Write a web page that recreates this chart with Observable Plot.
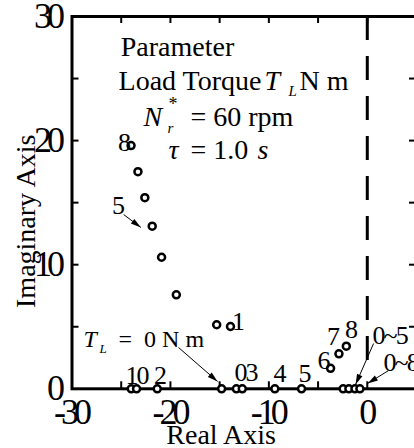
<!DOCTYPE html>
<html><head><meta charset="utf-8">
<script src="https://cdn.jsdelivr.net/npm/d3@7"></script>
<script src="https://cdn.jsdelivr.net/npm/@observablehq/plot@0.6"></script>
<style>
body{margin:0;background:#fff}
svg text{font-family:"Liberation Serif","Times New Roman",serif}
g[aria-description="tick-labels"] text{letter-spacing:-5px}
g[aria-description="pole-labels"] text{letter-spacing:-2px}
</style></head><body><div id="chart"></div>
<script>
// Pole locations (real, imaginary)
const poleRe = [-13.9, -15.3, -19.4, -20.9, -21.85, -22.6, -23.3, -24.0,
                -3.73, -2.88, -2.13,
                -23.98, -23.44, -21.34, -14.8, -13.3, -12.7, -9.39, -6.68, -2.45, -1.87, -1.25, -0.75];
const poleIm = [5.02, 5.16, 7.57, 10.6, 13.1, 15.4, 17.5, 19.6,
                1.65, 2.82, 3.43,
                0, 0, 0, 0, 0, 0, 0, 0, 0, 0, 0, 0];
// Tick labels
const xTickLabels = [-30, -20, -10, 0];
const yTickLabels = [0, 10, 20, 30];
const xTickMarks = [-25, -20, -15, -10, -5, 0];
const yTickMarks = [5, 10, 15, 20, 25];
// Axis titles
const xTitle = "Real Axis";
const yTitle = "Imaginary Axis";
// Pole labels (load torque values)
const labelText = ["8", "5", "1", "10", "2", "03", "4", "5", "6", "7", "8"];
const labelRe = [-24.77, -25.37, -13.18, -23.45, -21.11, -12.37, -8.96, -6.42, -4.49, -3.53, -1.70];
const labelIm = [19.86, 14.77, 5.42, 1.07, 1.07, 1.31, 1.19, 1.19, 2.28, 4.21, 4.74];
const rangeText = ["0~5", "0~8"];
const rangeRe = [0.54, 1.66];
const rangeIm = [4.30, 2.12];
// Annotation pieces
const annText  = ["Parameter", "Load Torque", "T", "L", "N m", "N", "r", "*", "= 60 rpm", "τ", "= 1.0", "s", "T", "L", "=  0 N m"];
const annRe    = [-25.05, -25.27, -10.44, -8.0, -6.88, -22.74, -20.30, -20.19, -17.96, -20.19, -17.96, -11.15, -28.83, -27.2, -25.27];
const annIm    = [26.78, 24.04, 24.04, 23.6, 24.04, 21.21, 20.65, 22.43, 21.21, 18.50, 18.50, 18.50, 3.33, 2.92, 3.33];
const annSize  = [28, 28, 28, 15, 28, 28, 15, 18, 28, 28, 28, 28, 24, 13, 24];
const annItal  = [false, false, true, true, false, true, true, false, false, true, false, true, true, true, false];
// Arrows
const arrowRe1 = [-24.75, -19.18, 0.64, 2.16];
const arrowIm1 = [14.04, 3.33, 3.65, 1.47];
const arrowRe2 = [-23.0, -15.21, -1.19, 0.03];
const arrowIm2 = [13.0, 0.59, 0.35, 0.43];

const FONT = "Liberation Serif, Times New Roman, serif";
const W = 414, H = 448;
const mL = 71.5, mR = -2, mT = 16, mB = 59.7;
const innerW = W - mL - mR, innerH = H - mT - mB;
const xs = d3.scaleLinear([-30, 5], [mL, W - mR]);
const ys = d3.scaleLinear([0, 30], [H - mB, mT]);

const poles = poleRe.map((re, i) => ({re, im: poleIm[i]}));
const labels = labelText.map((t, i) => ({t, re: labelRe[i], im: labelIm[i]}));
const ranges = rangeText.map((t, i) => ({t, re: rangeRe[i], im: rangeIm[i]}));
const ann = annText.map((t, i) => ({t, re: annRe[i], im: annIm[i], size: annSize[i], ital: annItal[i]}));
const arrows = arrowRe1.map((_, i) => {
  const a = Math.atan2(ys(arrowIm2[i]) - ys(arrowIm1[i]), xs(arrowRe2[i]) - xs(arrowRe1[i])) * 180 / Math.PI;
  return {x1: arrowRe1[i], y1: arrowIm1[i], x2: arrowRe2[i], y2: arrowIm2[i], rot: a + 90};
});
const arrowHead = {
  draw(context, size) {
    const s = Math.sqrt(size / Math.PI);
    context.moveTo(0, 0);
    context.lineTo(-s * 0.65, s * 2.3);
    context.lineTo(s * 0.65, s * 2.3);
    context.closePath();
  }
};

const textMarks = ann.map(a => Plot.text([a], {
  x: "re", y: "im", text: "t", textAnchor: "start", lineAnchor: "bottom", fontFamily: FONT,
  fontSize: a.size, fontStyle: a.ital ? "italic" : "normal", fill: "black", ariaDescription: "annotation"
}));

const plot = Plot.plot({
  width: W, height: H,
  marginLeft: mL, marginRight: mR, marginTop: mT, marginBottom: mB,
  x: {domain: [-30, 5], axis: null},
  y: {domain: [0, 30], axis: null},
  marks: [
    Plot.ruleX([0], {x: d => d, y1: 30, y2: 2.0, stroke: "black", strokeWidth: 3, strokeDasharray: "24,16"}),
    Plot.ruleX(xTickMarks, {x: d => d, insetTop: innerH - 7, stroke: "black", strokeWidth: 2}),
    Plot.ruleX(xTickMarks, {x: d => d, insetBottom: innerH - 7, stroke: "black", strokeWidth: 2}),
    Plot.ruleY(yTickMarks, {y: d => d, insetRight: innerW - 7, stroke: "black", strokeWidth: 2}),
    Plot.ruleY(yTickMarks, {y: d => d, insetLeft: innerW - 7, stroke: "black", strokeWidth: 2}),
    Plot.frame({stroke: "black", strokeWidth: 3}),
    Plot.text(yTickLabels, {x: -30, y: d => d, text: d => String(d), textAnchor: "end", dx: -12, fontSize: 36, fontFamily: FONT, fill: "black", ariaDescription: "tick-labels"}),
    Plot.text(xTickLabels, {x: d => d, y: 0, text: d => String(d), textAnchor: "middle", lineAnchor: "bottom", dy: 34.7, dx: -1.5, fontSize: 36, fontFamily: FONT, fill: "black", ariaDescription: "tick-labels"}),
    Plot.text([xTitle], {x: -15, y: 0, text: d => d, textAnchor: "middle", lineAnchor: "bottom", dx: 1.5, dy: 54.7, fontSize: 28, fontFamily: FONT, fill: "black"}),
    Plot.text([yTitle], {x: -30, y: 13.5, text: d => d, rotate: -90, textAnchor: "middle", lineAnchor: "bottom", dx: -37.5, fontSize: 28, fontFamily: FONT, fill: "black"}),
    Plot.link(arrows, {x1: "x1", y1: "y1", x2: "x2", y2: "y2", stroke: "black", strokeWidth: 1}),
    Plot.dot(arrows, {x: "x2", y: "y2", rotate: "rot", symbol: arrowHead, r: 4.5, fill: "black", stroke: "none"}),
    Plot.dot(poles, {x: "re", y: "im", r: 3.5, stroke: "black", strokeWidth: 2.5, fill: "white"}),
    Plot.text(labels, {x: "re", y: "im", text: "t", fontSize: 26, fontFamily: FONT, fill: "black", ariaDescription: "pole-labels"}),
    Plot.text(ranges, {x: "re", y: "im", text: "t", textAnchor: "start", fontSize: 26, fontFamily: FONT, fill: "black", ariaDescription: "pole-labels"}),
    ...textMarks
  ]
});
document.getElementById("chart").appendChild(plot);
</script></body></html>
